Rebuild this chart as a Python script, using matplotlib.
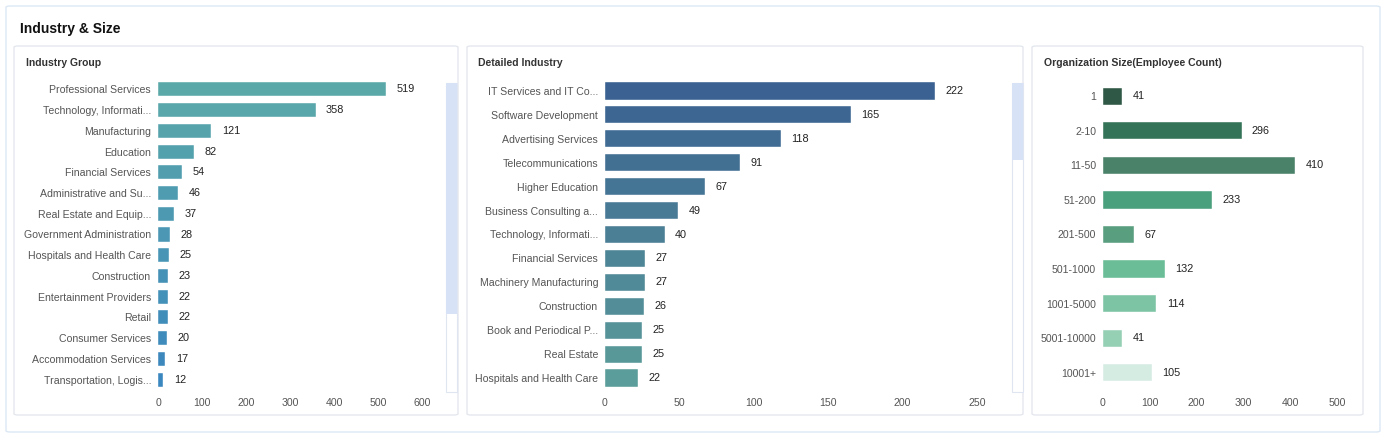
import matplotlib.pyplot as plt
from matplotlib.patches import FancyBboxPatch, Rectangle

plt.rcParams['font.family'] = ['Liberation Sans', 'DejaVu Sans']

# data
group_names = ['Professional Services', 'Technology, Informati...', 'Manufacturing', 'Education',
               'Financial Services', 'Administrative and Su...', 'Real Estate and Equip...',
               'Government Administration', 'Hospitals and Health Care', 'Construction',
               'Entertainment Providers', 'Retail', 'Consumer Services', 'Accommodation Services',
               'Transportation, Logis...']
group_counts = [519, 358, 121, 82, 54, 46, 37, 28, 25, 23, 22, 22, 20, 17, 12]

detail_names = ['IT Services and IT Co...', 'Software Development', 'Advertising Services',
                'Telecommunications', 'Higher Education', 'Business Consulting a...',
                'Technology, Informati...', 'Financial Services', 'Machinery Manufacturing',
                'Construction', 'Book and Periodical P...', 'Real Estate', 'Hospitals and Health Care']
detail_counts = [222, 165, 118, 91, 67, 49, 40, 27, 27, 26, 25, 25, 22]

size_names = ['1', '2-10', '11-50', '51-200', '201-500', '501-1000', '1001-5000', '5001-10000', '10001+']
size_counts = [41, 296, 410, 233, 67, 132, 114, 41, 105]
size_colors = ['#2f5846', '#347358', '#4a8169', '#4a9f7c', '#5a9e80', '#6abd97', '#7cc4a3', '#96d0b4', '#d5ece2']

W, H = 1390, 441
fig = plt.figure(figsize=(W / 100, H / 100), dpi=100)


def box(x0, y0, x1, y1, ec, fc='white', r=4):
    p = FancyBboxPatch((x0 / W, 1 - y1 / H), (x1 - x0) / W, (y1 - y0) / H,
                       boxstyle='round,pad=0,rounding_size=%f' % (r / W),
                       transform=fig.transFigure, ec=ec, fc=fc, lw=1, zorder=-2)
    fig.patches.append(p)


def rect(x0, y0, x1, y1, fc, ec='none'):
    fig.patches.append(Rectangle((x0 / W, 1 - y1 / H), (x1 - x0) / W, (y1 - y0) / H,
                                 transform=fig.transFigure, fc=fc, ec=ec, lw=0.8, zorder=-1))


def mix(c1, c2, t):
    a = [int(c1[i:i + 2], 16) for i in (1, 3, 5)]
    b = [int(c2[i:i + 2], 16) for i in (1, 3, 5)]
    return tuple((a[k] + (b[k] - a[k]) * t) / 255 for k in range(3))


# cards
box(6, 6, 1380, 432, '#dce8f4')
box(14, 46, 458, 415, '#e4e8ee')
box(467, 46, 1023, 415, '#e4e8ee')
box(1032, 46, 1363, 415, '#e4e8ee')
fig.text(20 / W, 1 - 29 / H, 'Industry & Size', fontsize=10, fontweight='bold', color='#111111', va='center')
fig.text(26 / W, 1 - 63 / H, 'Industry Group', fontsize=7.5, fontweight='bold', color='#333333', va='center')
fig.text(478 / W, 1 - 63 / H, 'Detailed Industry', fontsize=7.5, fontweight='bold', color='#333333', va='center')
fig.text(1044 / W, 1 - 63 / H, 'Organization Size(Employee Count)', fontsize=7.6, fontweight='bold',
         color='#333333', va='center')

# scrollbars
rect(446, 83, 457, 392, 'white', '#dfe6f2')
rect(446, 83, 457, 314, '#d7e2f6')
rect(1012, 83, 1023, 392, 'white', '#dfe6f2')
rect(1012, 83, 1023, 160, '#d7e2f6')


def panel(x0, x1, xmax, step, names, vals, colors, hgt):
    ax = fig.add_axes([x0 / W, 1 - 390 / H, (x1 - x0) / W, 311 / H])
    ax.set_zorder(2)
    n = len(names)
    ys = list(range(n))
    ax.barh(ys, vals, height=hgt, color=colors, edgecolor='white', linewidth=0.3)
    ax.set_ylim(n - 0.5, -0.5)
    ax.set_xlim(0, xmax)
    ax.set_yticks(ys)
    ax.set_yticklabels(names)
    ax.set_xticks(range(0, xmax + 1, step))
    ax.tick_params(length=0, labelsize=7.6, labelcolor='#555555')
    ax.tick_params(axis='y', pad=5)
    ax.tick_params(axis='x', pad=6)
    for s in ax.spines.values():
        s.set_visible(False)
    ax.patch.set_alpha(0)
    for y, v in zip(ys, vals):
        ax.annotate(str(v), (v, y), xytext=(7.5, 0), textcoords='offset points',
                    va='center', ha='left', fontsize=7.8, color='#222222')
    return ax


g_colors = [mix('#5ba8a9', '#3a86bf', i / (len(group_counts) - 1)) for i in range(len(group_counts))]
d_colors = [mix('#3a6191', '#5b9d9a', i / (len(detail_counts) - 1)) for i in range(len(detail_counts))]

panel(158, 422, 600, 100, group_names, group_counts, g_colors, 0.68)
panel(605, 977, 250, 50, detail_names, detail_counts, d_colors, 0.72)
panel(1103, 1337, 500, 100, size_names, size_counts, size_colors, 0.5)

fig.savefig('out.png', dpi=100)
